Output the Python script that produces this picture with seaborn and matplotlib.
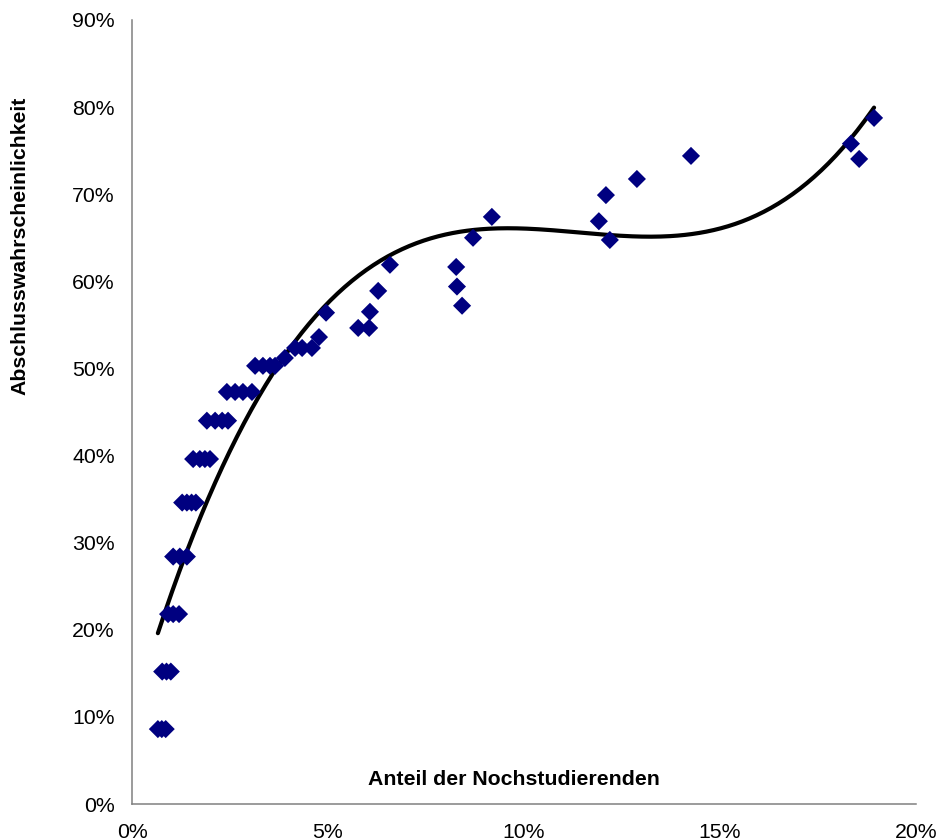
import numpy as np
import pandas as pd
import matplotlib
matplotlib.use("Agg")
import matplotlib.pyplot as plt
import seaborn as sns
from matplotlib.ticker import FuncFormatter, MultipleLocator

# Anteil der Nochstudierenden (%) und Abschlusswahrscheinlichkeit (%)
anteil = [
    0.66, 0.76, 0.86,
    0.77, 0.88, 0.99,
    0.92, 1.05, 1.20,
    1.05, 1.22, 1.40,
    1.28, 1.40, 1.52, 1.63,
    1.56, 1.73, 1.86, 1.99,
    1.91, 2.12, 2.30, 2.45,
    2.42, 2.63, 2.83, 3.06,
    3.14, 3.34, 3.52, 3.65,
    3.90,
    4.16, 4.34, 4.59,
    4.77, 4.95,
    5.77, 6.05, 6.07, 6.28, 6.58,
    8.27, 8.29, 8.42, 8.70, 9.18,
    11.91, 12.09, 12.19, 12.88, 14.26,
    18.34, 18.55, 18.93,
]
abschluss = [
    8.6, 8.6, 8.6,
    15.2, 15.2, 15.2,
    21.8, 21.8, 21.8,
    28.4, 28.4, 28.4,
    34.6, 34.6, 34.6, 34.6,
    39.6, 39.6, 39.6, 39.6,
    44.0, 44.0, 44.0, 44.0,
    47.3, 47.3, 47.3, 47.3,
    50.3, 50.3, 50.3, 50.3,
    51.2,
    52.35, 52.35, 52.35,
    53.6, 56.4,
    54.65, 54.65, 56.5, 58.9, 61.9,
    61.65, 59.4, 57.2, 65.0, 67.4,
    66.9, 69.9, 64.75, 71.75, 74.4,
    75.8, 74.05, 78.76,
]

df = pd.DataFrame({"anteil": anteil, "abschluss": abschluss})

# polynomischer Trend 3. Ordnung
coef = np.polyfit(df["anteil"], df["abschluss"], 3)
xs = np.linspace(df["anteil"].min(), df["anteil"].max(), 300)
trend = pd.DataFrame({"x": xs, "y": np.polyval(coef, xs)})

sns.set_style("white")
plt.rcParams["font.family"] = ["Liberation Sans", "DejaVu Sans"]
plt.rcParams["text.color"] = "black"
plt.rcParams["xtick.labelcolor"] = "black"
plt.rcParams["ytick.labelcolor"] = "black"

fig = plt.figure(figsize=(9.4, 8.4), dpi=100)
ax = fig.add_axes([132 / 940, 36 / 840, 784 / 940, 784 / 840])

sns.scatterplot(data=df, x="anteil", y="abschluss", marker="D", s=85,
                color="#000080", edgecolor="none", ax=ax, zorder=3)
sns.lineplot(data=trend, x="x", y="y", color="black", linewidth=3,
             ax=ax, zorder=2)

ax.set_xlim(0, 20)
ax.set_ylim(0, 90)
ax.xaxis.set_major_locator(MultipleLocator(5))
ax.yaxis.set_major_locator(MultipleLocator(10))
pct = FuncFormatter(lambda v, _: f"{v:.0f}%")
ax.xaxis.set_major_formatter(pct)
ax.yaxis.set_major_formatter(pct)

for side in ["top", "right"]:
    ax.spines[side].set_visible(False)
for side in ["left", "bottom"]:
    ax.spines[side].set_color("#808080")
    ax.spines[side].set_linewidth(1.1)
ax.tick_params(axis="both", direction="out", length=4.5, width=1.1,
               color="#808080", labelsize=15.3, labelcolor="black")
ax.tick_params(axis="y", pad=8)
ax.tick_params(axis="x", pad=9)

ax.set_xlabel("")
ax.set_ylabel("")
ax.text(0.487, 0.031, "Anteil der Nochstudierenden", transform=ax.transAxes,
        ha="center", va="center", fontsize=15.3, fontweight="bold")
fig.text(20 / 940, 1 - 246 / 840, "Abschlusswahrscheinlichkeit", rotation=90,
         ha="center", va="center", fontsize=15.3, fontweight="bold")

fig.savefig("out.png", dpi=100)
